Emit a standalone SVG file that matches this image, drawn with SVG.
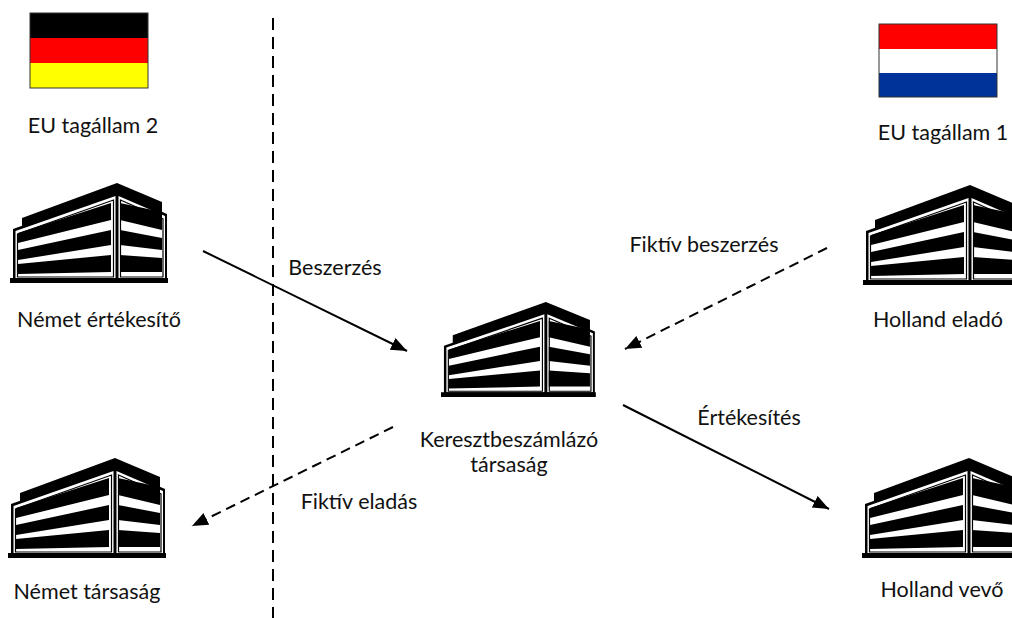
<svg xmlns="http://www.w3.org/2000/svg" xmlns:xlink="http://www.w3.org/1999/xlink" width="1012" height="618" viewBox="0 0 1012 618">
<style>
.t{font-family:Lato,"Liberation Sans",sans-serif;font-size:21.5px;fill:#111;text-anchor:middle}
.c{fill:none;stroke:#000;stroke-width:2}
.d{stroke-dasharray:10 6}
</style>
<defs>
<marker id="ah" markerUnits="userSpaceOnUse" markerWidth="18" markerHeight="14" refX="16" refY="6.5" orient="auto">
<path d="M0,0 L16,6.5 L0,13 z" fill="#000"/>
</marker>
<g id="bld">
<path d="M12,44 L12,35 L107,0 L152,19 L152,32 Z" fill="#000"/>
<path d="M3,46 L107,9 L157,31 L157,96 L3,96 Z" fill="#000"/>
<path d="M5.5,48 L105.5,13 L105.5,95 L5.5,95 Z" fill="#fff"/>
<path d="M108.5,13 L155,33 L155,95 L108.5,95 Z" fill="#fff"/>
<path d="M7.5,51 L103.5,17 L103.5,94 L7.5,94 Z" fill="none" stroke="#000" stroke-width="1.2"/>
<path d="M110.5,17 L153,36 L153,94 L110.5,94 Z" fill="none" stroke="#000" stroke-width="1.2"/>
<path d="M8,50 L101,20 L101,37 L8,60 Z" fill="#000"/>
<path d="M8,67 L101,47 L101,62 L8,77 Z" fill="#000"/>
<path d="M8,81 L101,72 L101,89 L8,91 Z" fill="#000"/>
<path d="M110,20 L152,29 L152,47 L110,37 Z" fill="#000"/>
<path d="M110,47 L152,55 L152,67 L110,62 Z" fill="#000"/>
<path d="M110,72 L152,75 L152,89 L110,89 Z" fill="#000"/>
<rect x="0" y="95" width="158" height="5" fill="#000"/>
</g>
</defs>

<g id="divider">
<line x1="273" y1="18" x2="273" y2="618" stroke="#000" stroke-width="2" stroke-dasharray="12 7"/>
</g>

<g id="flag-de">
<rect x="30" y="13" width="118" height="25" fill="#000"/>
<rect x="30" y="38" width="118" height="25" fill="#f00"/>
<rect x="30" y="63" width="118" height="25" fill="#ff0"/>
<rect x="30" y="13" width="118" height="75" fill="none" stroke="#333" stroke-width="1"/>
<text class="t" x="93" y="133">EU tagállam 2</text>
</g>

<g id="flag-nl">
<rect x="879" y="24" width="118" height="25" fill="#f00"/>
<rect x="879" y="49" width="118" height="24" fill="#fff"/>
<rect x="879" y="73" width="118" height="24" fill="#039"/>
<rect x="879" y="24" width="118" height="73" fill="none" stroke="#333" stroke-width="1"/>
<text class="t" x="943" y="140">EU tagállam 1</text>
</g>

<g id="nemet-ertekesito">
<use xlink:href="#bld" transform="translate(10,183)"/>
<text class="t" x="99" y="327">Német értékesítő</text>
</g>

<g id="holland-elado">
<use xlink:href="#bld" transform="translate(863,185)"/>
<text class="t" x="938" y="327">Holland eladó</text>
</g>

<g id="kereszt">
<use xlink:href="#bld" transform="translate(441,302) scale(0.98,0.95)"/>
<text class="t" x="509" y="447">Keresztbeszámlázó</text>
<text class="t" x="509" y="472">társaság</text>
</g>

<g id="nemet-tarsasag">
<use xlink:href="#bld" transform="translate(8,458)"/>
<text class="t" x="87" y="599">Német társaság</text>
</g>

<g id="holland-vevo">
<use xlink:href="#bld" transform="translate(862,458)"/>
<text class="t" x="942" y="597">Holland vevő</text>
</g>

<g id="connectors">
<line class="c" x1="203" y1="251" x2="407" y2="351" marker-end="url(#ah)"/>
<line class="c d" x1="827" y1="248" x2="625" y2="349" marker-end="url(#ah)"/>
<line class="c" x1="623" y1="405" x2="829" y2="509" marker-end="url(#ah)"/>
<line class="c d" x1="393" y1="427" x2="192" y2="526" marker-end="url(#ah)"/>
<text class="t" x="335" y="275">Beszerzés</text>
<text class="t" x="704" y="252">Fiktív beszerzés</text>
<text class="t" x="749" y="425">Értékesítés</text>
<text class="t" x="359" y="509">Fiktív eladás</text>
</g>
</svg>
